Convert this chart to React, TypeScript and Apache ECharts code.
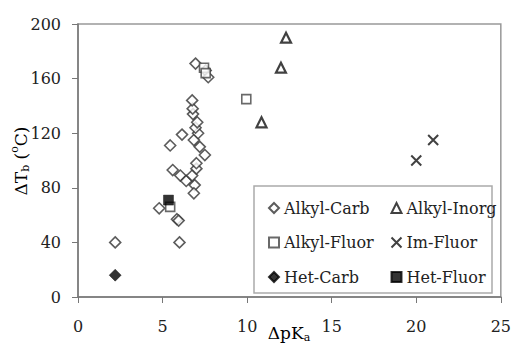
import React, { useEffect, useRef } from "react";
import * as echarts from "echarts";

const xTicks = { min: 0, max: 25, interval: 5 };
const yTicks = { min: 0, max: 200, interval: 40 };

const alkylCarb: number[][] = [
  [2.2, 40], [4.8, 65], [5.85, 57], [5.95, 56], [6.0, 40], [5.6, 93], [6.05, 89],
  [6.4, 85], [6.75, 89], [6.9, 82], [6.85, 76], [7.0, 94], [7.0, 98], [7.5, 104],
  [7.2, 110], [6.85, 115], [7.1, 120], [6.95, 124], [7.05, 128], [5.45, 111],
  [6.15, 119], [6.8, 134], [6.78, 138], [6.75, 144], [6.95, 171], [7.55, 166], [7.7, 161],
];
const alkylInorg: number[][] = [[10.85, 128], [12.0, 168], [12.3, 190]];
const alkylFluor: number[][] = [[5.45, 66], [9.95, 145], [7.45, 168], [7.55, 164]];
const imFluor: number[][] = [[20.0, 100], [21.0, 115]];
const hetCarb: number[][] = [[2.2, 16]];
const hetFluor: number[][] = [[5.35, 71]];

const FONT = "DejaVu Serif";
const CROSS = "path://M0,0 L10,10 M10,0 L0,10";

export default function App() {
  const ref = useRef<HTMLDivElement>(null);
  useEffect(() => {
    if (!ref.current) return;
    const chart = echarts.init(ref.current, undefined, { renderer: "svg" });
    const legendText = { fontFamily: FONT, fontSize: 16, color: "#222", lineHeight: 20 };
    const axisCommon = {
      axisLine: { show: true, onZero: false, lineStyle: { color: "#777", width: 1.5 } },
      axisTick: { show: true, length: 6, lineStyle: { color: "#777", width: 1 } },
      splitLine: { show: false },
    };
    chart.setOption({
      animation: false,
      backgroundColor: "#fff",
      textStyle: { fontFamily: FONT },
      grid: {
        left: 78, right: 12, top: 24, bottom: 47,
        show: true, borderColor: "#999", borderWidth: 1.5, backgroundColor: "transparent",
      },
      xAxis: {
        type: "value", ...xTicks, ...axisCommon,
        axisLabel: { fontFamily: FONT, fontSize: 16, color: "#222", margin: 21 },
      },
      yAxis: {
        type: "value", ...yTicks, ...axisCommon,
        axisLabel: { fontFamily: FONT, fontSize: 16, color: "#222", margin: 17 },
      },
      legend: [
        {
          orient: "vertical", left: 263, top: 193, itemGap: 14.5,
          itemWidth: 10, itemHeight: 10,
          textStyle: legendText,
          data: ["Alkyl-Carb", "Alkyl-Fluor", "Het-Carb"],
        },
        {
          orient: "vertical", left: 384, top: 193, itemGap: 14.5,
          itemWidth: 10, itemHeight: 10,
          textStyle: legendText,
          data: ["Alkyl-Inorg", "Im-Fluor", "Het-Fluor"],
        },
      ],
      graphic: [
        {
          type: "rect", z: -1, silent: true,
          shape: { x: 254, y: 186, width: 238, height: 107 },
          style: { fill: "#fff", stroke: "#aaa", lineWidth: 1.5 },
        },
        {
          type: "text", x: 18, y: 161, rotation: Math.PI / 2,
          style: {
            text: "{n|ΔT}{s|b}{n| (}{u|o}{n|C)}",
            align: "center", verticalAlign: "middle",
            rich: {
              n: { fontFamily: FONT, fontSize: 17, color: "#222", lineHeight: 22, verticalAlign: "bottom" },
              s: { fontFamily: FONT, fontSize: 11, color: "#222", lineHeight: 22, verticalAlign: "bottom", padding: [0, 0, -2, 0] },
              u: { fontFamily: FONT, fontSize: 11, color: "#222", lineHeight: 22, verticalAlign: "top", padding: [2, 0, 0, 0] },
            },
          },
        },
        {
          type: "text", x: 289, y: 331,
          style: {
            text: "{n|ΔpK}{s|a}",
            align: "center", verticalAlign: "middle",
            rich: {
              n: { fontFamily: FONT, fontSize: 17, color: "#222", lineHeight: 20, verticalAlign: "bottom" },
              s: { fontFamily: FONT, fontSize: 11, color: "#222", lineHeight: 20, verticalAlign: "bottom", padding: [0, 0, -2, 0] },
            },
          },
        },
      ],
      series: [
        {
          name: "Alkyl-Carb", type: "scatter", data: alkylCarb, symbol: "diamond", symbolSize: 11,
          itemStyle: { color: "#fff", borderColor: "#333", borderWidth: 1.6 },
        },
        {
          name: "Alkyl-Inorg", type: "scatter", data: alkylInorg, symbol: "triangle", symbolSize: 10,
          itemStyle: { color: "#fff", borderColor: "#111", borderWidth: 2.2 },
        },
        {
          name: "Alkyl-Fluor", type: "scatter", data: alkylFluor, symbol: "rect", symbolSize: 9,
          itemStyle: { color: "#fff", borderColor: "#444", borderWidth: 1.6 },
        },
        {
          name: "Im-Fluor", type: "scatter", data: imFluor, symbol: CROSS, symbolSize: 10,
          itemStyle: { color: "none", borderColor: "#111", borderWidth: 2 },
        },
        {
          name: "Het-Carb", type: "scatter", data: hetCarb, symbol: "diamond", symbolSize: 12,
          itemStyle: { color: "#000", borderColor: "#000", borderWidth: 0.5 },
        },
        {
          name: "Het-Fluor", type: "scatter", data: hetFluor, symbol: "rect", symbolSize: 10,
          itemStyle: { color: "#000", borderColor: "#000", borderWidth: 0.5 },
        },
      ],
    });
    return () => chart.dispose();
  }, []);
  return <div ref={ref} style={{ width: 514, height: 344, position: "absolute", left: 0, top: 0 }} />;
}
